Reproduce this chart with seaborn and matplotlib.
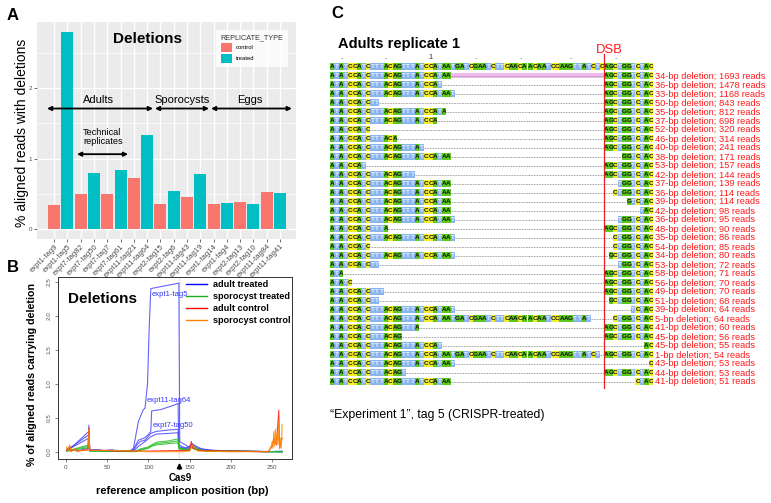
import numpy as np
import pandas as pd
import matplotlib
matplotlib.use("Agg")
import matplotlib.pyplot as plt
import seaborn as sns
from matplotlib.patches import Rectangle, Patch
from matplotlib.lines import Line2D
from matplotlib.collections import PatchCollection

W, H = 771, 503

# ---------------- Panel A data ----------------
samples = ["expt1-tag9", "expt1-tag5", "expt7-tag82", "expt7-tag50", "expt7-tag7", "expt7-tag61",
           "expt11-tag21", "expt11-tag64", "expt2-tag15", "expt2-tag6", "expt11-tag43", "expt11-tag19",
           "expt1-tag14", "expt1-tag4", "expt2-tag13", "expt2-tag10", "expt11-tag84", "expt11-tag41"]
replicate_type = ["control", "treated"] * 9
pct_deleted = [0.34, 2.80, 0.50, 0.80, 0.50, 0.84, 0.72, 1.34, 0.355, 0.54,
               0.46, 0.78, 0.355, 0.37, 0.39, 0.36, 0.53, 0.515]

# ---------------- Panel B data ----------------
at_t5_pos = [1, 5, 6, 12, 13, 27, 28, 29, 42, 43, 57, 58, 78, 82, 85, 88, 94, 96, 99, 101,
             103, 120, 137, 138, 145, 150, 153, 158, 165, 180, 200, 245, 262]
at_t5_val = [0.03, 0.08, 0.01, 0.04, 0.01, 0.05, 0.39, 0.03, 0.03, 0.01, 0.03, 0.01, 0.01, 0.05, 0.25, 0.45, 0.62, 0.64, 1.0, 1.8,
             2.40, 2.44, 2.48, 0.15, 0.10, 0.06, 0.12, 0.08, 0.04, 0.02, 0.01, 0.0, 0.01]
at_t64_pos = [1, 6, 28, 29, 60, 80, 84, 88, 95, 100, 103, 104, 115, 130, 136, 137, 142, 150, 153, 160, 175, 262]
at_t64_val = [0.02, 0.05, 0.30, 0.02, 0.02, 0.01, 0.08, 0.17, 0.20, 0.25, 0.30, 0.60, 0.62, 0.68, 0.71, 0.10, 0.07, 0.04, 0.10, 0.05, 0.02, 0.0]
at_t50_pos = [1, 28, 29, 60, 82, 86, 90, 96, 103, 110, 125, 136, 137, 145, 152, 160, 175, 262]
at_t50_val = [0.02, 0.25, 0.02, 0.01, 0.02, 0.10, 0.15, 0.17, 0.27, 0.30, 0.32, 0.33, 0.07, 0.05, 0.10, 0.04, 0.01, 0.0]
at_t61_pos = [1, 28, 29, 60, 83, 88, 95, 103, 110, 125, 136, 137, 145, 152, 160, 175, 262]
at_t61_val = [0.02, 0.20, 0.02, 0.01, 0.02, 0.08, 0.14, 0.22, 0.26, 0.27, 0.28, 0.06, 0.04, 0.09, 0.03, 0.01, 0.0]
st_pos = [1, 28, 29, 85, 90, 100, 104, 110, 125, 136, 137, 140, 150, 152, 160, 170, 262]
st_1_val = [0.01, 0.10, 0.01, 0.01, 0.04, 0.07, 0.10, 0.14, 0.16, 0.19, 0.06, 0.05, 0.03, 0.10, 0.04, 0.01, 0.0]
st_2_val = [0.01, 0.08, 0.01, 0.01, 0.03, 0.06, 0.09, 0.12, 0.14, 0.16, 0.05, 0.04, 0.02, 0.08, 0.03, 0.01, 0.0]
st_3_val = [0.01, 0.06, 0.01, 0.00, 0.02, 0.05, 0.08, 0.10, 0.12, 0.13, 0.04, 0.03, 0.02, 0.06, 0.02, 0.01, 0.0]
ac_1_pos = [1, 5, 6, 12, 13, 27, 28, 29, 42, 60, 100, 150, 152, 154, 160, 200, 245, 250, 252, 255, 258, 259, 262]
ac_1_val = [0.02, 0.06, 0.01, 0.03, 0.01, 0.03, 0.35, 0.02, 0.02, 0.01, 0.01, 0.02, 0.15, 0.05, 0.02, 0.01, 0.0, 0.08, 0.20, 0.10, 0.61, 0.05, 0.20]
sc_1_pos = [1, 2, 5, 6, 12, 13, 27, 28, 29, 42, 57, 100, 140, 150, 153, 160, 200, 245, 248, 250,
            251, 252, 253, 254, 255, 256, 257, 258, 259, 260, 261, 262]
sc_1_val = [0.07, 0.0, 0.10, 0.0, 0.05, 0.01, 0.02, 0.33, 0.02, 0.02, 0.02, 0.0, 0.0, 0.01, 0.10, 0.01, 0.0, 0.0, 0.05, 0.15,
            0.05, 0.30, 0.08, 0.33, 0.12, 0.25, 0.10, 0.45, 0.05, 0.20, 0.05, 0.40]
group_names = ["adult treated", "sporocyst treated", "adult control", "sporocyst control"]
group_colors = ["#4A4AFF", "#2DBE2D", "#FF1A1A", "#FF8A00"]

# ---------------- Panel C data ----------------
ref_block1 = "ATATCCATCTTTACAGTTTATCCATAATGATCGAATCTTCAACA"
ref_block2 = "ACAATCCAAGTTATCTC"
ref_block3 = "AGCTGGTCTAC"
del_start = [27, 25, 28, 11, 26, 24, 9, 15, 21, 27, 8, 19, 27, 27, 27, 27, 28, 13, 28, 9,
             28, 11, 3, 5, 12, 11, 28, 58, 20, 16, 25, 60, 28, 17, 27]
del_bp = [34, 36, 33, 50, 35, 37, 52, 46, 40, 38, 53, 42, 37, 36, 39, 42, 36, 48, 35, 54,
          34, 53, 58, 56, 49, 51, 39, 5, 41, 45, 45, 1, 43, 44, 41]
read_counts = [1693, 1478, 1168, 843, 812, 698, 320, 314, 241, 171, 157, 144, 139, 114, 114, 98, 95, 90, 86, 85,
               80, 72, 71, 70, 70, 68, 64, 64, 60, 56, 55, 54, 53, 53, 51]
ruler_marks = [2, 12, 22, 32, 42, 53, 63]
base_colors = {"A": "#5DC81E", "G": "#5DC81E", "C": "#F2EE2A", "T": "#8AB4F0"}

plt.rcParams['font.family'] = ['Liberation Sans', 'DejaVu Sans']
fig = plt.figure(figsize=(7.71, 5.03), dpi=100)


def fx(x):
    return x / W


def fy(y):
    return 1 - y / H


def axrect(l, t, r, b):
    return [l / W, 1 - b / H, (r - l) / W, (b - t) / H]


# ================= Panel A =================
axA = fig.add_axes(axrect(37, 22, 296, 239))
dfA = pd.DataFrame({"sample": samples, "type": replicate_type, "pct": pct_deleted})
axA.set_facecolor("#EBEBEB")
axA.set_axisbelow(True)
sns.barplot(data=dfA, x="sample", y="pct", hue="type", order=samples, hue_order=["control", "treated"],
            palette={"control": "#F8766D", "treated": "#00BFC4"}, dodge=False, width=0.9,
            saturation=1, legend=False, ax=axA, errorbar=None)
axA.set_xlim(-1.295, 18.21)
axA.set_ylim(-0.14, 2.94)
for s in axA.spines.values():
    s.set_visible(False)
axA.set_yticks([0, 1, 2])
axA.set_yticks([0.5, 1.5, 2.5], minor=True)
axA.grid(True, which="major", color="white", lw=1.0)
axA.grid(True, which="minor", axis="y", color="white", lw=0.5)
axA.tick_params(axis="y", which="major", labelsize=4.5, labelcolor="#4D4D4D", length=2, width=0.5, color="#333333", pad=1.5)
axA.tick_params(axis="y", which="minor", length=0)
axA.tick_params(axis="x", labelsize=5.5, labelcolor="#4D4D4D", length=2, width=0.5, color="#333333", pad=1)
axA.set_xticks(range(len(samples)))
axA.set_xticklabels(samples, rotation=45, ha="right", va="top", rotation_mode="anchor")
axA.set_xlabel("")
axA.set_ylabel("")
fig.text(fx(22), fy(133), "% aligned reads with deletions", rotation=90, ha="center", va="center", fontsize=10)
fig.text(fx(148), fy(39), "Deletions", ha="center", va="center", fontsize=11, fontweight="bold")

leg_handles = [Patch(facecolor="#F8766D", edgecolor="none"), Patch(facecolor="#00BFC4", edgecolor="none")]
legA = axA.legend(leg_handles, ["control", "treated"], title="REPLICATE_TYPE", loc="upper left",
                  bbox_to_anchor=(fx(213), fy(27)), bbox_transform=fig.transFigure,
                  fontsize=4.2, title_fontsize=5.2, frameon=True, fancybox=False, facecolor="white",
                  edgecolor="white", handlelength=2.0, handleheight=2.0, handletextpad=0.6,
                  labelspacing=0.25, borderpad=0.8, alignment="left")
legA.get_title().set_color("#333333")
legA.get_frame().set_linewidth(0)

# annotations (arrows and labels)
arrow_kw = dict(arrowstyle="<|-|>", color="black", lw=1.3, mutation_scale=6, shrinkA=0, shrinkB=0)
axA.annotate("", xy=(-0.54, 1.712), xytext=(7.44, 1.712), arrowprops=arrow_kw, annotation_clip=False)
axA.annotate("", xy=(7.59, 1.712), xytext=(11.66, 1.712), arrowprops=arrow_kw, annotation_clip=False)
axA.annotate("", xy=(11.81, 1.712), xytext=(17.9, 1.712), arrowprops=arrow_kw, annotation_clip=False)
axA.annotate("", xy=(1.72, 1.064), xytext=(5.56, 1.064), arrowprops=arrow_kw, annotation_clip=False)
axA.text(3.3, 1.83, "Adults", ha="center", va="center", fontsize=8)
axA.text(9.62, 1.83, "Sporocysts", ha="center", va="center", fontsize=8)
axA.text(14.74, 1.83, "Eggs", ha="center", va="center", fontsize=8)
axA.text(2.17, 1.31, "Technical\nreplicates", ha="left", va="center", fontsize=6.6, linespacing=1.05)

# ================= Panel B =================
axB = fig.add_axes(axrect(58, 277, 292, 459))
line_sets = [("expt1-tag5", 0, at_t5_pos, at_t5_val), ("expt11-tag64", 0, at_t64_pos, at_t64_val),
             ("expt7-tag50", 0, at_t50_pos, at_t50_val), ("expt7-tag61", 0, at_t61_pos, at_t61_val),
             ("spo-1", 1, st_pos, st_1_val), ("spo-2", 1, st_pos, st_2_val), ("spo-3", 1, st_pos, st_3_val),
             ("ctl-a1", 2, ac_1_pos, ac_1_val), ("ctl-s1", 3, sc_1_pos, sc_1_val)]
rows = []
for name, g, p, v in line_sets:
    for pp, vv in zip(p, v):
        rows.append((name, group_names[g], pp, vv))
dfB = pd.DataFrame(rows, columns=["sample", "group", "pos", "val"])
sns.lineplot(data=dfB, x="pos", y="val", hue="group", units="sample", estimator=None, sort=False,
             hue_order=group_names, palette=dict(zip(group_names, group_colors)), lw=0.8,
             legend=False, ax=axB, alpha=0.85)
axB.set_xlim(-9.4, 274)
axB.set_ylim(-0.107, 2.57)
axB.axvline(137, color="#AAAAAA", ls=":", lw=0.6, zorder=0)
for s in axB.spines.values():
    s.set_color("#333333")
    s.set_linewidth(0.7)
axB.set_xticks([0, 50, 100, 150, 200, 250])
axB.set_yticks([0.0, 0.5, 1.0, 1.5, 2.0, 2.5])
axB.set_yticklabels(["0.0", "0.5", "1.0", "1.5", "2.0", "2.5"])
axB.tick_params(axis="both", labelsize=4.5, labelcolor="#555555", length=2.5, width=0.5, color="#555555", pad=2)
axB.tick_params(axis="y", labelrotation=90)
for lab in axB.get_yticklabels():
    lab.set_va("center")
axB.set_xlabel("")
axB.set_ylabel("")
axB.text(126, 2.31, "expt1-tag5", color="#3333FF", fontsize=5.5, ha="center", va="center")
axB.text(125.4, 0.76, "expt11-tag64", color="#3333FF", fontsize=5.5, ha="center", va="center")
axB.text(130, 0.39, "expt7-tag50", color="#3333FF", fontsize=5.5, ha="center", va="center")
axB.text(3, 2.24, "Deletions", fontsize=11, fontweight="bold", ha="left", va="center")
legB_handles = [Line2D([], [], color=c, lw=1.0) for c in ["#0000FF", "#22AA22", "#FF0000", "#FF8000"]]
axB.legend(legB_handles, group_names, loc="upper left", bbox_to_anchor=(fx(186), fy(280)),
           bbox_transform=fig.transFigure, frameon=False, prop=dict(weight="bold", size=6.6),
           handlelength=2.3, handletextpad=0.6, labelspacing=0.32, borderpad=0, borderaxespad=0)
fig.text(fx(32), fy(375), "% of aligned reads carrying deletion", rotation=90, ha="center", va="center",
         fontsize=7.7, fontweight="bold")
fig.text(fx(182.5), fy(491), "reference amplicon position (bp)", ha="center", va="center",
         fontsize=8, fontweight="bold")
fig.text(fx(180), fy(478), "Cas9", ha="center", va="center", fontsize=7, fontweight="bold")
fig.add_artist(matplotlib.patches.FancyArrowPatch((fx(179.5), fy(472)), (fx(179.5), fy(460)),
                                                  transform=fig.transFigure, arrowstyle="-|>",
                                                  mutation_scale=7, lw=1.2, color="black"))

# panel letters
fig.text(fx(12.5), fy(15.5), "A", fontsize=12, fontweight="bold", ha="center", va="center")
fig.text(fx(13), fy(268), "B", fontsize=12, fontweight="bold", ha="center", va="center")
fig.text(fx(337), fy(14), "C", fontsize=12, fontweight="bold", ha="center", va="center")

# ================= Panel C =================
axC = fig.add_axes([320 / W, 0, (W - 320) / W, 1])
axC.set_xlim(320, W)
axC.set_ylim(H, 0)
axC.axis("off")
ref = ref_block1 + ref_block2 + ref_block3
CW, GAP, X0 = 4.47, 1.5, 330.0
B1 = len(ref_block1)
DSB = len(ref_block1) + len(ref_block2)


def cx(i):
    return X0 + CW * i + (GAP if i >= B1 else 0)


def ry(r):
    return 66.7 + 9.0 * r


seq_font = dict(family=["Liberation Sans Narrow", "Liberation Sans"], fontweight="bold", fontsize=4.6)
rects, rcols = [], []


def draw_bases(idx_list, y):
    for i in idx_list:
        b = ref[i]
        rects.append(Rectangle((cx(i), y - 3.4), CW, 6.8))
        rcols.append(base_colors[b])
        axC.text(cx(i) + CW / 2, y + 0.2, b, ha="center", va="center",
                 color=("#E8F0FF" if b == "T" else "#101010"), **seq_font)


def dashes(a, b, y):
    segs = []
    if a < B1:
        segs.append((a, min(b, B1)))
    if b > B1:
        segs.append((max(a, B1), b))
    for s0, s1 in segs:
        if s1 > s0:
            axC.plot([cx(s0) + 0.3, cx(s1) - 0.3], [y, y], color="#9A9A9A", lw=0.6, ls=(0, (2.0, 1.2)))


# reference row
draw_bases(range(len(ref)), ry(0))
for k, m in enumerate(ruler_marks):
    axC.text(cx(m) + CW / 2, 57.5, "1" if k == 2 else ".", ha="center", va="center",
             fontsize=5.5 if k == 2 else 6, color="#333333")

for r, (s0, d, n) in enumerate(zip(del_start, del_bp, read_counts), start=1):
    y = ry(r)
    e = s0 + d
    if r == 1:
        axC.add_patch(Rectangle((cx(s0), y - 2.6), cx(DSB) - cx(s0), 5.2, facecolor="#F6B8F2",
                                edgecolor="none", zorder=0))
    draw_bases(range(0, s0), y)
    dashes(s0, e, y)
    draw_bases(range(e, len(ref)), y)
    axC.text(655, y + 0.3, f"{d}-bp deletion; {n} reads", color="#FF1A1A", fontsize=6.7,
             ha="left", va="center")

pc = PatchCollection(rects, facecolors=rcols, edgecolors="none", zorder=1)
axC.add_collection(pc)
axC.plot([cx(DSB), cx(DSB)], [54, 388], color="#E02020", lw=0.9, zorder=5)
axC.text(cx(DSB) + 5, 49.5, "DSB", color="#FF1A1A", fontsize=9.4, ha="center", va="center")
axC.text(338, 44, "Adults replicate 1", fontsize=10.5, fontweight="bold", ha="left", va="center")
axC.text(330, 415, "\u201cExperiment 1\u201d, tag 5 (CRISPR-treated)", fontsize=8.8, ha="left", va="center")

fig.savefig("out.png", dpi=100)
